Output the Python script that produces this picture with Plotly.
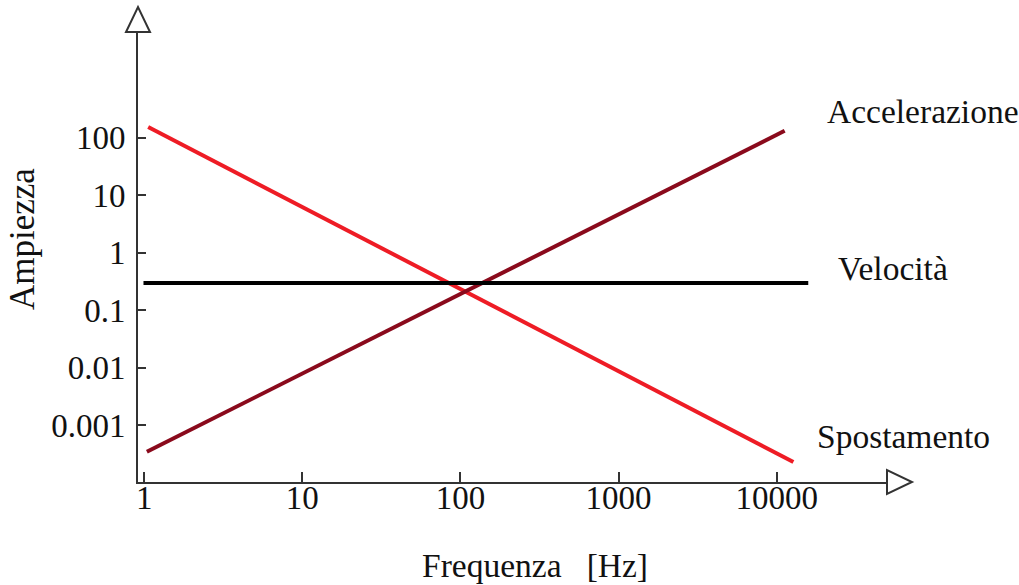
import plotly.graph_objects as go

# Data (log-log, straight lines defined by end points)
freq_spost = [1.06, 12760]
amp_spost = [153, 0.000228]
freq_acc = [1.04, 11240]
amp_acc = [0.000343, 131]
freq_vel = [0.99, 15850]
amp_vel = [0.297, 0.297]

x_tickvals = [1, 10, 100, 1000, 10000]
x_ticktext = ["1", "10", "100", "1000", "10000"]
y_tickvals = [100, 10, 1, 0.1, 0.01, 0.001]
y_ticktext = ["100", "10", "1", "0.1", "0.01", "0.001"]

W, H = 1019, 585
L, R, T, B = 138, 132, 32, 103
PW, PH = W - L - R, H - T - B

def px(xp):
    return (xp - L) / PW

def py(yp):
    return (H - B - yp) / PH

FONT = "Liberation Serif"
AXC = "#333333"
TXT = "#111111"

fig = go.Figure()
fig.add_trace(go.Scatter(x=freq_spost, y=amp_spost, mode="lines",
                         line=dict(color="#ee1c25", width=4), name="Spostamento"))
fig.add_trace(go.Scatter(x=freq_acc, y=amp_acc, mode="lines",
                         line=dict(color="#8a0a1c", width=4), name="Accelerazione"))
fig.add_trace(go.Scatter(x=freq_vel, y=amp_vel, mode="lines",
                         line=dict(color="#000000", width=4), name="Velocità"))

fig.update_layout(
    width=W, height=H,
    margin=dict(l=L, r=R, t=T, b=B),
    paper_bgcolor="white", plot_bgcolor="white",
    showlegend=False,
    font=dict(family=FONT, size=33, color=TXT),
)
fig.update_xaxes(type="log", range=[-0.039, 4.698], showgrid=False, zeroline=False,
                 showline=True, linecolor=AXC, linewidth=2,
                 ticks="inside", ticklen=10, tickwidth=2, tickcolor=AXC,
                 tickvals=x_tickvals, ticktext=x_ticktext, ticklabelstandoff=-15,
                 tickfont=dict(family=FONT, size=33, color=TXT))
fig.update_yaxes(type="log", range=[-3.99, 3.836], showgrid=False, zeroline=False,
                 showline=True, linecolor=AXC, linewidth=2,
                 ticks="inside", ticklen=8, tickwidth=2, tickcolor=AXC,
                 tickvals=y_tickvals, ticktext=y_ticktext, ticklabelstandoff=4,
                 tickfont=dict(family=FONT, size=33, color=TXT))

# Arrow heads on axes
fig.add_shape(type="path", xref="paper", yref="paper",
              path=f"M {px(126)} {py(32)} L {px(150)} {py(32)} L {px(138)} {py(7)} Z",
              line=dict(color=AXC, width=2), fillcolor="white", layer="above")
fig.add_shape(type="path", xref="paper", yref="paper",
              path=f"M {px(887)} {py(470)} L {px(887)} {py(494)} L {px(912)} {py(482)} Z",
              line=dict(color=AXC, width=2), fillcolor="white", layer="above")

def label(text, x, y, angle=0, xanchor="left", size=33.5):
    fig.add_annotation(text=text, xref="paper", yref="paper", x=px(x), y=py(y),
                       xanchor=xanchor, yanchor="middle", showarrow=False,
                       textangle=angle, font=dict(family=FONT, size=size, color=TXT))

label("Accelerazione", 825, 111)
label("Velocità", 836, 268)
label("Spostamento", 815, 436)
label("Frequenza\u00a0\u00a0\u00a0[Hz]", 535, 565, xanchor="center")
label("Ampiezza", 23, 239, angle=-90, xanchor="center", size=35)

fig.write_html("out.html")
